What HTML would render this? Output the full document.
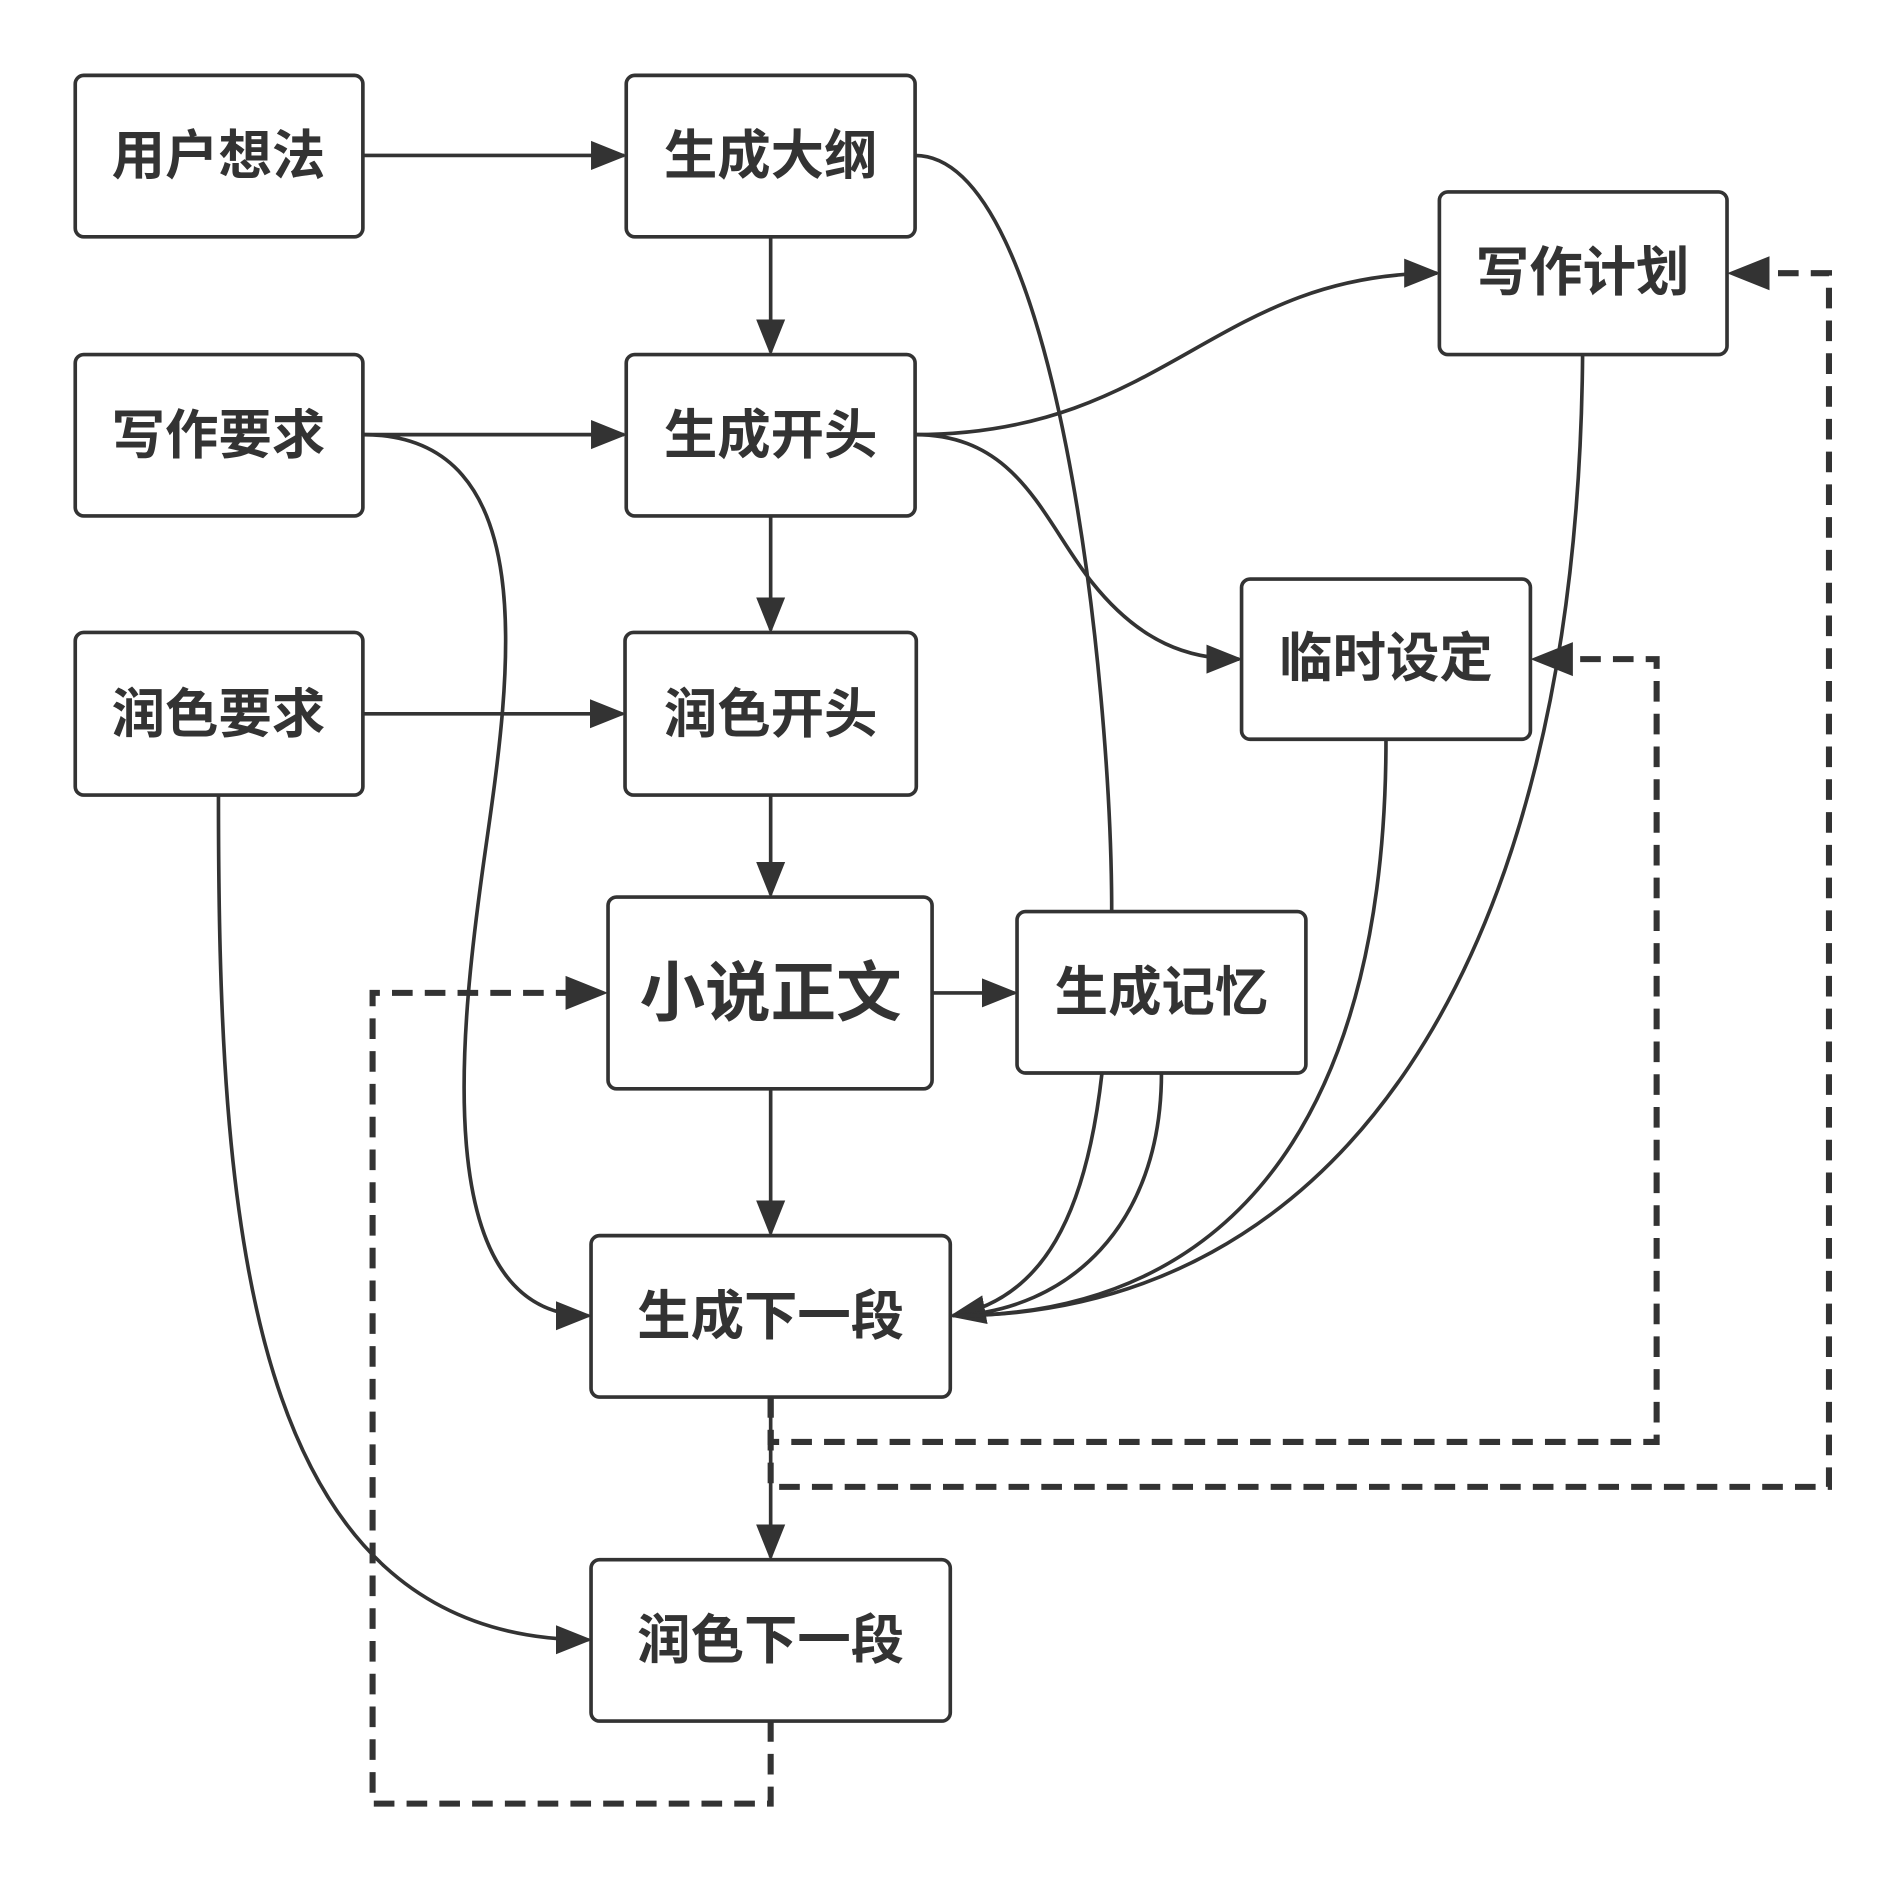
<!DOCTYPE html>
<html><head><meta charset="utf-8"><style>html,body{margin:0;padding:0;background:#fff}svg{display:block}</style></head><body>
<svg width="1903" height="1879" viewBox="0 0 1568 1548" xmlns="http://www.w3.org/2000/svg">
<defs>
<marker id="b" viewBox="0 0 10 10" refX="9" refY="5" markerWidth="30" markerHeight="30" orient="auto" markerUnits="userSpaceOnUse"><path d="M0,1 L10,5 L0,9 z" fill="#333"/></marker>
</defs>
<g fill="none" stroke="#333" stroke-width="3">
<path d="M299,128 H514" marker-end="url(#b)"/>
<path d="M635,195 V290" marker-end="url(#b)"/>
<path d="M299,358 H514" marker-end="url(#b)"/>
<path d="M635,425 V519" marker-end="url(#b)"/>
<path d="M299,588 H513" marker-end="url(#b)"/>
<path d="M635,655 V737" marker-end="url(#b)"/>
<path d="M768,818 H836" marker-end="url(#b)"/>
<path d="M635,897 V1016" marker-end="url(#b)"/>
<path d="M635,1151 V1283" marker-end="url(#b)"/>
<path d="M754,128 C870,128 916,560 916,751"/>
<path d="M754,358 C960,358 1000,225 1184,225" marker-end="url(#b)"/>
<path d="M754,358 C840,358 860,430 900,480 C940,530 980,543 1021,543" marker-end="url(#b)"/>
<path d="M299,358 C450,358 420,560 400,700 C380,840 350,1084 485,1084" marker-end="url(#b)"/>
<path d="M180,655 C180,1000 200,1351 485,1351" marker-end="url(#b)"/>
<path d="M908,884 C895,1000 860,1070 785,1084" marker-end="url(#b)"/>
<path d="M957,884 C957,1010 880,1080 785,1084"/>
<path d="M1142,609 C1142,900 1030,1084 785,1084"/>
<path d="M1304,292 C1300,800 1100,1084 785,1084"/>
</g>
<g fill="none" stroke="#333" stroke-width="5" stroke-dasharray="17,10">
<path d="M635,1418 V1486 H307 V818 H470"/>
<path d="M635,1151 V1188 H1365 V543 H1292"/>
<path d="M635,1151 V1225 H1507 V225 H1455"/>
</g>
<g fill="#333">
<path d="M501,818 L466,804 L466,832 z"/>
<path d="M1261,543 L1296,529 L1296,557 z"/>
<path d="M1423,225 L1458,211 L1458,239 z"/>
</g>
<g fill="#fff" stroke="#333" stroke-width="3">
<rect x="62" y="62" width="237" height="133" rx="7"/>
<rect x="516" y="62" width="238" height="133" rx="7"/>
<rect x="62" y="292" width="237" height="133" rx="7"/>
<rect x="516" y="292" width="238" height="133" rx="7"/>
<rect x="62" y="521" width="237" height="134" rx="7"/>
<rect x="515" y="521" width="240" height="134" rx="7"/>
<rect x="1186" y="158" width="237" height="134" rx="7"/>
<rect x="1023" y="477" width="238" height="132" rx="7"/>
<rect x="501" y="739" width="267" height="158" rx="7"/>
<rect x="838" y="751" width="238" height="133" rx="7"/>
<rect x="487" y="1018" width="296" height="133" rx="7"/>
<rect x="487" y="1285" width="296" height="133" rx="7"/>
</g>
<g font-family="'Liberation Sans','Noto Sans CJK SC',sans-serif" font-weight="bold" font-size="44" fill="#333" text-anchor="middle" dominant-baseline="central">
<text x="180" y="129">用户想法</text>
<text x="635" y="129">生成大纲</text>
<text x="180" y="359">写作要求</text>
<text x="635" y="359">生成开头</text>
<text x="180" y="589">润色要求</text>
<text x="635" y="589">润色开头</text>
<text x="1304" y="225">写作计划</text>
<text x="1142" y="543">临时设定</text>
<text x="635" y="818" font-size="54">小说正文</text>
<text x="957" y="818">生成记忆</text>
<text x="635" y="1085">生成下一段</text>
<text x="635" y="1352">润色下一段</text>
</g>
</svg>
</body></html>
